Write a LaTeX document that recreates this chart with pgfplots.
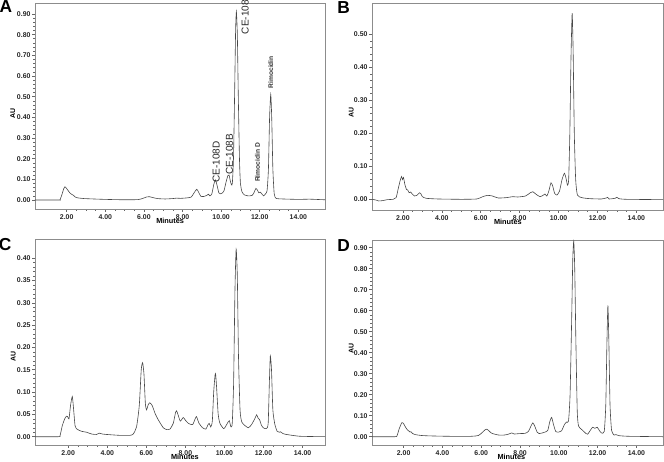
\documentclass[border=0pt]{standalone}
\usepackage{fontspec}
\setmainfont{Liberation Sans}
\usepackage{pgfplots}
\pgfplotsset{compat=1.18}

\pgfplotstableread{
t y
0.36 0.000
1.60 0.000
1.66 0.002
1.75 0.025
1.85 0.055
1.91 0.064
1.98 0.058
2.08 0.045
2.18 0.033
2.25 0.028
2.31 0.025
2.38 0.020
2.45 0.014
2.60 0.010
2.90 0.007
3.40 0.005
4.00 0.003
5.00 0.001
5.70 0.002
5.95 0.008
6.15 0.015
6.28 0.016
6.45 0.012
6.70 0.007
7.10 0.005
7.50 0.007
7.70 0.009
7.90 0.008
8.20 0.010
8.45 0.014
8.60 0.035
8.74 0.052
8.85 0.035
8.95 0.018
9.10 0.017
9.25 0.022
9.34 0.028
9.42 0.020
9.52 0.030
9.62 0.075
9.70 0.097
9.78 0.075
9.88 0.035
9.95 0.030
10.05 0.033
10.15 0.045
10.25 0.085
10.35 0.118
10.41 0.121
10.47 0.095
10.53 0.075
10.58 0.080
10.64 0.200
10.70 0.520
10.75 0.820
10.79 0.911
10.84 0.800
10.89 0.500
10.95 0.200
11.00 0.080
11.08 0.040
11.20 0.025
11.40 0.020
11.60 0.022
11.70 0.035
11.80 0.056
11.88 0.048
11.95 0.035
12.03 0.038
12.12 0.028
12.20 0.020
12.30 0.030
12.38 0.045
12.45 0.150
12.51 0.400
12.57 0.511
12.62 0.400
12.68 0.150
12.75 0.030
12.85 0.008
13.20 0.005
14.00 0.003
14.60 0.004
15.38 0.001
}\dataA

\pgfplotstableread{
t y
0.41 0.000
0.60 -0.002
0.75 -0.005
0.95 -0.004
1.20 -0.001
1.50 0.000
1.65 0.005
1.75 0.030
1.85 0.055
1.93 0.069
1.98 0.060
2.03 0.066
2.10 0.045
2.18 0.030
2.25 0.028
2.32 0.020
2.40 0.022
2.48 0.016
2.60 0.010
2.72 0.012
2.85 0.020
2.92 0.017
3.00 0.008
3.20 0.003
3.80 0.001
5.00 0.000
5.80 0.001
6.10 0.008
6.35 0.012
6.60 0.010
6.90 0.004
7.30 0.005
7.65 0.008
7.90 0.007
8.30 0.010
8.55 0.020
8.68 0.023
8.85 0.015
9.05 0.008
9.20 0.012
9.30 0.016
9.40 0.010
9.50 0.025
9.61 0.050
9.70 0.040
9.80 0.018
9.92 0.013
10.05 0.025
10.18 0.060
10.30 0.079
10.38 0.065
10.46 0.043
10.52 0.060
10.58 0.200
10.64 0.430
10.70 0.564
10.75 0.450
10.81 0.200
10.88 0.060
10.97 0.013
11.20 0.005
11.60 0.002
12.20 0.001
12.45 0.004
12.52 0.006
12.60 0.001
12.90 0.003
13.00 0.006
13.10 0.002
13.50 0.000
15.37 -0.001
}\dataB

\pgfplotstableread{
t y
0.30 0.000
1.50 0.000
1.58 0.002
1.70 0.025
1.83 0.041
1.92 0.046
1.97 0.045
2.04 0.040
2.12 0.070
2.21 0.090
2.28 0.060
2.35 0.025
2.45 0.017
2.69 0.012
2.94 0.010
3.20 0.006
3.45 0.005
3.59 0.008
3.75 0.006
3.97 0.005
4.65 0.003
5.16 0.003
5.33 0.006
5.50 0.022
5.64 0.070
5.74 0.150
5.81 0.166
5.88 0.140
5.95 0.075
6.01 0.060
6.10 0.072
6.18 0.076
6.30 0.070
6.45 0.052
6.61 0.038
6.87 0.020
7.05 0.016
7.21 0.017
7.38 0.030
7.50 0.055
7.55 0.058
7.62 0.050
7.74 0.035
7.89 0.043
8.00 0.037
8.15 0.030
8.37 0.027
8.50 0.040
8.57 0.045
8.70 0.030
8.88 0.020
9.05 0.017
9.15 0.026
9.22 0.030
9.30 0.022
9.38 0.035
9.45 0.100
9.52 0.138
9.55 0.140
9.60 0.110
9.68 0.050
9.77 0.030
9.97 0.018
10.15 0.030
10.25 0.036
10.33 0.022
10.40 0.030
10.47 0.120
10.54 0.330
10.60 0.420
10.66 0.360
10.72 0.180
10.80 0.060
10.90 0.032
11.22 0.020
11.40 0.028
11.55 0.040
11.65 0.049
11.72 0.042
11.80 0.038
11.90 0.025
11.99 0.020
12.15 0.018
12.24 0.030
12.30 0.120
12.35 0.181
12.41 0.150
12.48 0.060
12.58 0.028
12.70 0.012
12.81 0.010
12.87 0.011
13.00 0.007
13.18 0.005
13.86 0.001
15.15 0.000
}\dataC

\pgfplotstableread{
t y
0.37 0.000
1.55 0.000
1.66 0.005
1.78 0.040
1.91 0.067
2.00 0.062
2.10 0.045
2.20 0.032
2.26 0.028
2.33 0.022
2.38 0.024
2.45 0.016
2.60 0.010
2.90 0.006
3.30 0.004
4.30 0.002
5.50 0.002
5.86 0.006
6.05 0.020
6.20 0.033
6.29 0.036
6.42 0.026
6.55 0.016
6.89 0.008
7.20 0.008
7.40 0.012
7.57 0.018
7.70 0.013
8.00 0.015
8.26 0.016
8.43 0.025
8.56 0.050
8.66 0.066
8.76 0.050
8.88 0.022
8.98 0.015
9.15 0.018
9.29 0.022
9.43 0.030
9.53 0.070
9.63 0.092
9.72 0.060
9.84 0.025
10.00 0.022
10.14 0.028
10.30 0.060
10.40 0.070
10.50 0.075
10.58 0.200
10.66 0.550
10.72 0.850
10.77 0.930
10.82 0.800
10.88 0.450
10.95 0.120
11.02 0.050
11.21 0.032
11.40 0.015
11.49 0.012
11.62 0.030
11.74 0.045
11.86 0.040
11.98 0.045
12.10 0.028
12.20 0.018
12.34 0.025
12.42 0.150
12.48 0.450
12.53 0.625
12.58 0.450
12.64 0.150
12.72 0.030
12.85 0.008
12.95 0.010
13.10 0.005
13.60 0.002
15.37 0.000
}\dataD

\pgfplotsset{
  trace/.style={draw=black!72, line width=0.45pt, smooth, tension=0.35, mark=none},
  chrom/.style={
  scale only axis, anchor=south west,
  axis line style={draw=black!45, line width=0.5pt},
  every tick/.style={draw=black!60, line width=0.4pt},
  tick align=outside,
  major tick length=2.2pt, minor tick length=1.3pt,
  xtick pos=bottom, ytick pos=left,
  xtick={2,4,...,14}, minor x tick num=3,
  minor y tick num=4,
  ticklabel style={font=\fontsize{5.2}{6}\selectfont\bfseries, text=black!85},
  xticklabel style={inner sep=1.5pt},
  yticklabel style={inner sep=1pt},
  /pgf/number format/.cd, fixed, fixed zerofill, precision=2, assume math mode=true,
  /pgfplots/.cd,
  clip mode=individual,
}}

\begin{document}
\begin{tikzpicture}
\path[use as bounding box] (0,0) rectangle (498pt,345.75pt);

% Panel A
\begin{axis}[chrom, at={(26.25pt,189pt)}, width=217.5pt, height=154.5pt,
  xmin=0.36, xmax=15.38, ymin=-0.0435, ymax=0.953,
  ytick={0,0.1,...,0.9}]
\addplot[trace] table[x=t,y=y]{\dataA};
\node[rotate=90, font=\fontsize{7.5}{8}\selectfont, text=black!85] at (axis cs:9.74,0.184) {CE-108D};
\node[rotate=90, font=\fontsize{7.5}{8}\selectfont, text=black!85] at (axis cs:10.43,0.222) {CE-108B};
\node[rotate=90, font=\fontsize{7.5}{8}\selectfont, text=black!85] at (axis cs:11.24,0.884) {CE-108};
\node[rotate=90, font=\fontsize{5}{6}\selectfont\bfseries, text=black!80] at (axis cs:11.88,0.182) {Rimocidin D};
\node[rotate=90, font=\fontsize{5}{6}\selectfont\bfseries, text=black!80] at (axis cs:12.57,0.618) {Rimocidin};
\node[xshift=-16.7pt, rotate=90, font=\fontsize{5.2}{6}\selectfont\bfseries] at (rel axis cs:0,0.466) {AU};
\node[yshift=-8.8pt, font=\fontsize{5.5}{6}\selectfont\bfseries] at (rel axis cs:0.466,0) {Minutes};
\end{axis}

% Panel B
\begin{axis}[chrom, at={(279pt,188.25pt)}, width=218.25pt, height=155.25pt,
  xmin=0.41, xmax=15.37, ymin=-0.0324, ymax=0.595,
  ytick={0,0.1,...,0.5}]
\addplot[trace] table[x=t,y=y]{\dataB};
\node[xshift=-15.5pt, rotate=90, font=\fontsize{5.2}{6}\selectfont\bfseries] at (rel axis cs:0,0.47) {AU};
\node[yshift=-8.8pt, font=\fontsize{5.5}{6}\selectfont\bfseries] at (rel axis cs:0.467,0) {Minutes};
\end{axis}

% Panel C
\begin{axis}[chrom, at={(26.25pt,12pt)}, width=217.5pt, height=154.5pt,
  xmin=0.30, xmax=15.15, ymin=-0.0186, ymax=0.443,
  ytick={0,0.05,...,0.4}]
\addplot[trace] table[x=t,y=y]{\dataC};
\node[xshift=-16.3pt, rotate=90, font=\fontsize{5.2}{6}\selectfont\bfseries] at (rel axis cs:0,0.43) {AU};
\node[yshift=-8.8pt, font=\fontsize{5.5}{6}\selectfont\bfseries] at (rel axis cs:0.517,0) {Minutes};
\end{axis}

% Panel D
\begin{axis}[chrom, at={(279pt,12pt)}, width=218.25pt, height=153.75pt,
  xmin=0.37, xmax=15.37, ymin=-0.0395, ymax=0.937,
  ytick={0,0.1,...,0.9}]
\addplot[trace] table[x=t,y=y]{\dataD};
\node[xshift=-15.5pt, rotate=90, font=\fontsize{5.2}{6}\selectfont\bfseries] at (rel axis cs:0,0.47) {AU};
\node[yshift=-8.8pt, font=\fontsize{5.5}{6}\selectfont\bfseries] at (rel axis cs:0.479,0) {Minutes};
\end{axis}

\node[font=\fontsize{13}{14}\selectfont\bfseries] at (4.5pt,340.7pt) {A};
\node[font=\fontsize{13}{14}\selectfont\bfseries] at (257.8pt,339.75pt) {B};
\node[font=\fontsize{13}{14}\selectfont\bfseries] at (3.8pt,162pt) {C};
\node[font=\fontsize{13}{14}\selectfont\bfseries] at (257.8pt,161.8pt) {D};
\end{tikzpicture}
\end{document}
